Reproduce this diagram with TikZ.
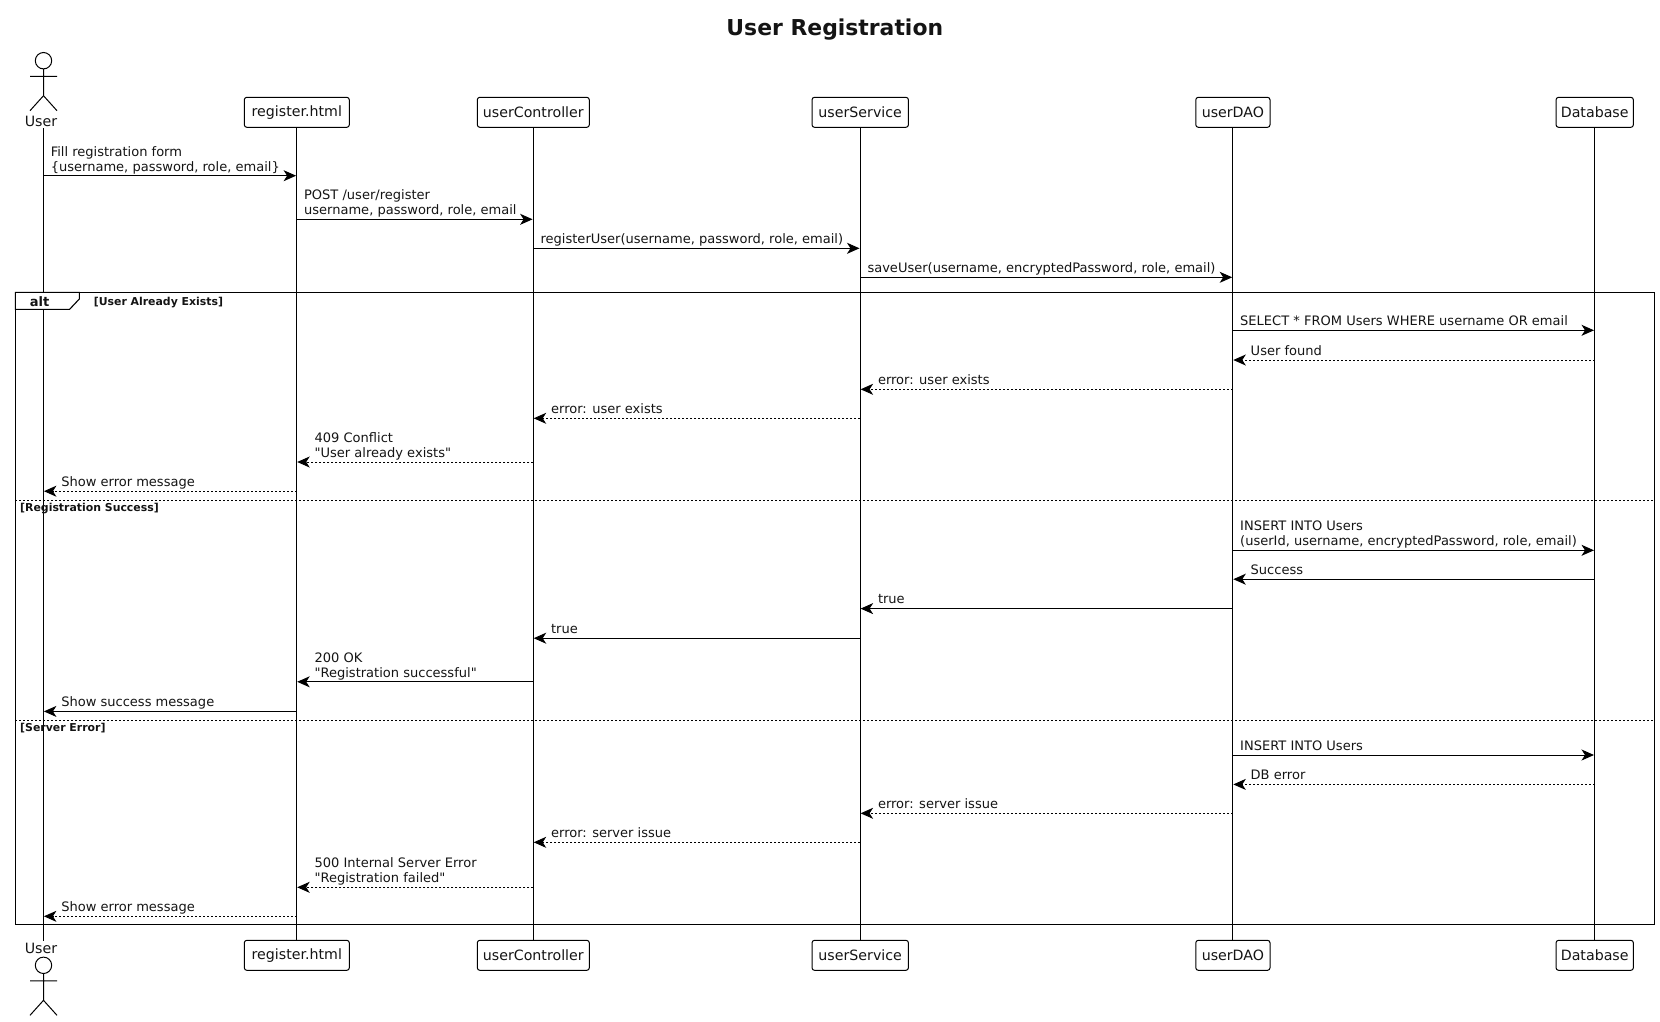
\documentclass[tikz,border=0pt]{standalone}
\usepackage{fontspec}
\setmainfont[Ligatures=TeXOff]{DejaVu Sans}
\usetikzlibrary{arrows.meta,calc}
\newcommand{\twol}[2]{\vbox{\baselineskip=15pt\lineskiplimit=-20pt\hbox{#1}\hbox{#2}}}
\newcommand{\FMsg}[6]{%
  \coordinate (#1s) at (#2 |- 0,#4);
  \coordinate (#1e) at (#3 |- 0,#4);
  \draw[msg,#5] (#1s) -- ([xshift=-0.7pt]#1e);
  \node[lbl] (#1t) at ([xshift=7.1pt,yshift=4.7pt]#1s) {#6};}
\newcommand{\RMsg}[6]{%
  \coordinate (#1s) at (#2 |- 0,#4);
  \coordinate (#1e) at (#3 |- 0,#4);
  \draw[msg,#5] (#1s) -- ([xshift=0.4pt]#1e);
  \node[lbl] (#1t) at ([xshift=17.6pt,yshift=4.7pt]#1e) {#6};}
\newcommand{\ActorFig}[1]{%
  \begin{scope}[shift={(43.5,#1)},line width=1pt]
    \draw (0,0) circle[radius=8.2pt];
    \draw (0,8.2) -- (0,35) (-13.5,15.6) -- (13.5,15.6) (-13.5,50) -- (0,35) -- (13.5,50);
  \end{scope}}
\definecolor{ink}{RGB}{20,20,20}
\tikzset{
  msg/.style={line width=1pt,-{Stealth[length=12.5pt,width=11pt,inset=3.5pt]},black},
  dsh/.style={dash pattern=on 2pt off 2pt},
  lbl/.style={anchor=base west,inner sep=0pt,font=\fontsize{13.03}{15}\selectfont,text=ink},
  part/.style={draw=black,line width=1pt,rounded corners=2.5pt,fill=white,minimum height=30pt,inner sep=0pt,font=\fontsize{14.2}{17}\selectfont,text=ink},
  actorlbl/.style={inner sep=0pt,minimum height=14pt,font=\fontsize{14.2}{17}\selectfont,text=ink},
  life/.style={line width=1pt,black},
  frameline/.style={line width=1.1pt,black},
  sepline/.style={line width=1pt,black,dash pattern=on 2pt off 2pt},
  taglbl/.style={anchor=base west,inner sep=0pt,font=\fontsize{10.9}{13}\selectfont\bfseries,text=ink},
}
\begin{document}
\begin{tikzpicture}[x=1pt,y=-1pt]
\useasboundingbox (0,0) rectangle (1660,1021);
\node[font=\fontsize{21.9}{26}\selectfont\bfseries,text=ink,inner sep=0pt] (title) at (834.8,29.5) {User Registration};
% participants, top
\node[actorlbl] (userT) at (41,121) {User};
\node[part,minimum width=105pt] (regT) at (296.8,112.3) {register.html};
\node[part,minimum width=112pt] (ctlT) at (533.3,112.3) {userController};
\node[part,minimum width=96.4pt] (svcT) at (860.2,112.3) {userService};
\node[part,minimum width=74.2pt] (daoT) at (1232.9,112.3) {userDAO};
\node[part,minimum width=77.3pt] (dbT) at (1594.7,112.3) {Database};
% participants, bottom
\node[actorlbl] (userB) at (41,948.3) {User};
\node[part,minimum width=105pt] (regB) at (296.8,955.3) {register.html};
\node[part,minimum width=112pt] (ctlB) at (533.3,955.3) {userController};
\node[part,minimum width=96.4pt] (svcB) at (860.2,955.3) {userService};
\node[part,minimum width=74.2pt] (daoB) at (1232.9,955.3) {userDAO};
\node[part,minimum width=77.3pt] (dbB) at (1594.7,955.3) {Database};
\ActorFig{60.7}
\ActorFig{965.3}
% lifelines
\coordinate (usr) at (43.5,128);
\coordinate (usrB) at (43.5,941.3);
\draw[life] (usr) -- (usrB);
\draw[life] (regT.south) -- (regB.north);
\draw[life] (ctlT.south) -- (ctlB.north);
\draw[life] (svcT.south) -- (svcB.north);
\draw[life] (daoT.south) -- (daoB.north);
\draw[life] (dbT.south) -- (dbB.north);
% frame
\coordinate (fTL) at (15.4,292.3);
\coordinate (fBR) at (1654.3,924.3);
\draw[frameline] (fTL) rectangle (fBR);
\draw[frameline,fill=white] (15.4,292.3) -- (79.3,292.3) -- (79.3,299) -- (69.6,309.3) -- (15.4,309.3) -- cycle;
\node[inner sep=0pt,font=\fontsize{13}{15}\selectfont\bfseries,text=ink] (altlbl) at (39.5,301.5) {alt};
\node[taglbl] (g1) at (93.6,305.3) {[User Already Exists]};
\coordinate (s1a) at (15.4,500.3); \coordinate (s1b) at (1654.3,500.3);
\draw[sepline] (s1a) -- (s1b);
\node[taglbl] (g2) at (20,511) {[Registration Success]};
\coordinate (s2a) at (15.4,720.4); \coordinate (s2b) at (1654.3,720.4);
\draw[sepline] (s2a) -- (s2b);
\node[taglbl] (g3) at (20,731) {[Server Error]};
% messages before the frame
\FMsg{m1}{usr}{regT}{175.7}{}{\twol{Fill registration form}{\{username, password, role, email\}}}
\FMsg{m2}{regT}{ctlT}{219.3}{}{\twol{POST /user/register}{username, password, role, email}}
\FMsg{m3}{ctlT}{svcT}{248.3}{}{registerUser(username, password, role, email)}
\FMsg{m4}{svcT}{daoT}{277.3}{}{saveUser(username, encryptedPassword, role, email)}
% user already exists
\FMsg{a1}{daoT}{dbT}{330.3}{}{SELECT * FROM Users WHERE username OR email}
\RMsg{a2}{dbT}{daoT}{360}{dsh}{User found}
\RMsg{a3}{daoT}{svcT}{389.3}{dsh}{error: user exists}
\RMsg{a4}{svcT}{ctlT}{418.3}{dsh}{error: user exists}
\RMsg{a5}{ctlT}{regT}{462}{dsh}{\twol{409 Conflict}{"User already exists"}}
\RMsg{a6}{regT}{usr}{491.2}{dsh}{Show error message}
% registration success
\FMsg{b1}{daoT}{dbT}{550.3}{}{\twol{INSERT INTO Users}{(userId, username, encryptedPassword, role, email)}}
\RMsg{b2}{dbT}{daoT}{579.2}{}{Success}
\RMsg{b3}{daoT}{svcT}{608.6}{}{true}
\RMsg{b4}{svcT}{ctlT}{638.2}{}{true}
\RMsg{b5}{ctlT}{regT}{681.8}{}{\twol{200 OK}{"Registration successful"}}
\RMsg{b6}{regT}{usr}{711.4}{}{Show success message}
% server error
\FMsg{c1}{daoT}{dbT}{755}{}{INSERT INTO Users}
\RMsg{c2}{dbT}{daoT}{784.4}{dsh}{DB error}
\RMsg{c3}{daoT}{svcT}{813.3}{dsh}{error: server issue}
\RMsg{c4}{svcT}{ctlT}{842.3}{dsh}{error: server issue}
\RMsg{c5}{ctlT}{regT}{887.3}{dsh}{\twol{500 Internal Server Error}{"Registration failed"}}
\RMsg{c6}{regT}{usr}{916.3}{dsh}{Show error message}
\end{tikzpicture}
\end{document}
